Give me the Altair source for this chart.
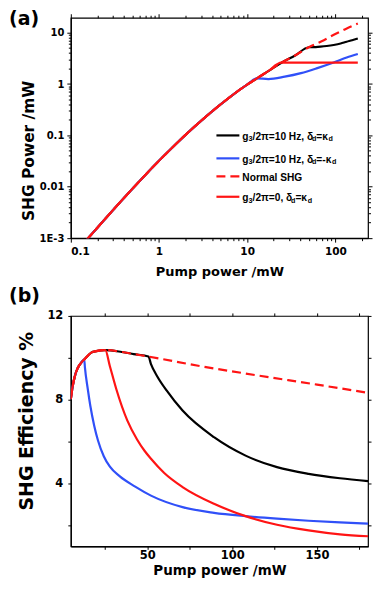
import altair as alt
import pandas as pd

# ---------------- Panel (a): SHG power vs pump power (log-log) ----------------
# low-power part shared by all four cases
a_pump_common = [0.15, 0.2, 0.3, 0.5, 0.7, 1.0, 1.6, 2.1, 3.0, 4.1, 5.0, 7.0, 10.0, 12.9]
a_shg_common = [0.000915, 0.0016, 0.0035, 0.00915, 0.017, 0.032, 0.0712, 0.111, 0.192, 0.303, 0.40, 0.63, 0.97, 1.29]
# normal SHG continuation
a_pump_normal = [17, 24.5, 35, 50, 70, 100, 130, 153, 180]
a_shg_normal = [1.74, 2.6, 3.6, 5.2, 6.8, 9.4, 11.7, 13.3, 15.0]
# g3/2pi=10 Hz, delta=kappa (after leaving normal curve at 50 mW)
a_pump_black = [60, 68, 80, 95.8, 115, 134.6, 155, 180]
a_shg_black = [5.25, 5.34, 5.5, 5.76, 6.15, 6.67, 7.1, 7.7]
# g3/2pi=10 Hz, delta=-kappa (after 12.9 mW)
a_pump_blue = [17.4, 26.7, 40.8, 62.5, 95.8, 134.6, 180]
a_shg_blue = [1.25, 1.39, 1.63, 2.04, 2.62, 3.28, 3.85]
# g3=0 (clamped after 24.5 mW)
a_pump_red = [50, 100, 180]
a_shg_red = [2.6, 2.6, 2.6]

# ---------------- Panel (b): SHG efficiency (%) vs pump power ----------------
b_pump_common = [5, 6, 7.7, 9, 11.4, 12.9]
b_eff_common = [8.03, 8.6, 9.22, 9.5, 9.8, 9.92]
b_pump_normal = [17, 20, 25.3, 35, 42, 50.7, 80, 113.4, 150, 180]
b_eff_normal = [10.25, 10.32, 10.37, 10.28, 10.18, 10.06, 9.62, 9.18, 8.72, 8.33]
b_pump_black = [52.2, 56, 61.5, 70.8, 89.3, 107.9, 126.4, 145, 163.5, 180]
b_eff_black = [9.7, 9.1, 8.43, 7.48, 6.21, 5.33, 4.78, 4.46, 4.25, 4.11]
b_pump_red = [28, 31.8, 38.3, 44, 48.5, 52.2, 60, 70.8, 89.3, 107.9, 126.4, 145, 163.5, 180]
b_eff_red = [9.6, 8.5, 7.0, 6.1, 5.55, 5.18, 4.5, 3.83, 3.03, 2.44, 2.03, 1.76, 1.57, 1.48]
b_pump_blue = [13.3, 15, 16.5, 18.8, 21, 24.4, 28, 33.7, 42.9, 52.2, 70.8, 89.3, 107.9, 126.4, 145, 163.5, 180]
b_eff_blue = [9.54, 8.5, 7.7, 6.75, 6.05, 5.3, 4.8, 4.35, 3.85, 3.42, 2.87, 2.60, 2.44, 2.32, 2.22, 2.14, 2.08]

legend_labels = ["g3/2π=10 Hz, δd=κd", "g3/2π=10 Hz, δd=-κd", "Normal SHG", "g3/2π=0, δd=κd"]

BLACK = "#000000"
BLUE = "#3050f8"
RED = "#ff1414"
FONT = "DejaVu Sans"
LFONT = "Liberation Sans"


def frame(xs, ys):
    return pd.DataFrame({"p": xs, "v": ys, "i": list(range(len(xs)))})


def upto(xs, ys, limit):
    return [x for x in xs if x <= limit], [y for x, y in zip(xs, ys) if x <= limit]


# ---- assemble panel (a) series
na_x, na_y = upto(a_pump_normal, a_shg_normal, 50)
ra_x, ra_y = upto(a_pump_normal, a_shg_normal, 24.5)
df_a_normal = frame(a_pump_common + a_pump_normal, a_shg_common + a_shg_normal)
df_a_black = frame(a_pump_common + na_x + a_pump_black, a_shg_common + na_y + a_shg_black)
df_a_blue = frame(a_pump_common + a_pump_blue, a_shg_common + a_shg_blue)
df_a_red = frame(a_pump_common + ra_x + a_pump_red, a_shg_common + ra_y + a_shg_red)

# ---- assemble panel (b) series
nb_x, nb_y = upto(b_pump_normal, b_eff_normal, 50.7)
rb_x, rb_y = upto(b_pump_normal, b_eff_normal, 25.3)
df_b_normal = frame(b_pump_common + b_pump_normal, b_eff_common + b_eff_normal)
df_b_black = frame(b_pump_common + nb_x + b_pump_black, b_eff_common + nb_y + b_eff_black)
df_b_blue = frame(b_pump_common + b_pump_blue, b_eff_common + b_eff_blue)
df_b_red = frame(b_pump_common + rb_x + b_pump_red, b_eff_common + rb_y + b_eff_red)

MAJOR_LOG = "abs(log(datum.value)/LN10 - round(log(datum.value)/LN10)) < 0.001"

axis_common = dict(
    domainColor="black", domainWidth=1.2, tickColor="black", tickWidth=1,
    labelFont=FONT, labelFontWeight="bold", labelColor="black",
    titleFont=FONT, titleFontWeight="bold", titleColor="black", grid=False,
)

x_vals_a = [m * 10 ** e for e in (-1, 0, 1) for m in range(1, 10)] + [100, 200]
y_vals_a = [m * 10 ** e for e in (-3, -2, -1, 0) for m in range(1, 10)] + [10]
x_vals_b = [25, 50, 75, 100, 125, 150, 175]
y_vals_b = [2, 4, 6, 8, 10, 12]

W_A, H_A = 298, 221
W_B, H_B = 298, 231

sx_a = alt.Scale(type="log", domain=[0.1, 235], nice=False)
sy_a = alt.Scale(type="log", domain=[0.001, 19.5], nice=False)
sx_b = alt.Scale(domain=[5, 180], nice=False, zero=False)
sy_b = alt.Scale(domain=[1, 12], nice=False, zero=False)

LOG_TICK = {"condition": {"test": MAJOR_LOG, "value": 4}, "value": 2.5}

xa = alt.X("p:Q", scale=sx_a,
           axis=alt.Axis(values=x_vals_a, title="Pump power /mW",
                         labelExpr=f"{MAJOR_LOG} ? format(datum.value, '~g') : ''",
                         tickSize=LOG_TICK,
                         labelFontSize=10.5, labelPadding=4, titleFontSize=13, titlePadding=9,
                         **axis_common))
ya = alt.Y("v:Q", scale=sy_a,
           axis=alt.Axis(values=y_vals_a, title="SHG Power /mW",
                         labelExpr=f"datum.value < 0.0015 ? '1E-3' : ({MAJOR_LOG} ? format(datum.value, '~g') : '')",
                         tickSize=LOG_TICK,
                         labelFontSize=10, labelPadding=3, titleFontSize=15.5,
                         titleX=-34, titleY=133, **axis_common))


def line(df, x, y, color, dash=None):
    kw = dict(color=color, strokeWidth=2.2, interpolate="monotone", clip=True)
    if dash:
        kw["strokeDash"] = dash
    return alt.Chart(df).mark_line(**kw).encode(x=x, y=y, order="i:Q")


def mirror_axes(df, sx, sy, xv, yv, tick):
    # invisible layer that only carries the top / right tick axes of the frame
    ax = dict(labels=False, title=None, domain=False, tickColor="black", tickWidth=1, grid=False)
    return alt.Chart(df).mark_point(opacity=0).encode(
        x=alt.X("p:Q", scale=sx, axis=alt.Axis(orient="top", values=xv, tickSize=tick, **ax)),
        y=alt.Y("v:Q", scale=sy, axis=alt.Axis(orient="right", values=yv, tickSize=tick, **ax)),
    )


one = pd.DataFrame({"k": [0]})


def panel_label(txt, x, y):
    return alt.Chart(one).mark_text(
        text=txt, align="left", baseline="top", font=FONT, fontWeight="bold",
        fontSize=19, color="black").encode(x=alt.value(x), y=alt.value(y))


# ---- manual legend for panel (a) (with subscripts)
EM = {"g": .611, "3": .556, "/": .278, "2": .556, "π": .62, "=": .584, "1": .556, "0": .556,
      " ": .278, "H": .722, "z": .5, ",": .278, "δ": .63, "d": .611, "κ": .62, "-": .333,
      "N": .722, "o": .611, "r": .389, "m": .889, "a": .556, "l": .278, "S": .667, "G": .778}
MAIN, SUB = 10.2, 7.2


def width(s, size):
    return sum(EM.get(c, .6) for c in s) * size


def segments(label):
    if label == "Normal SHG":
        return [(label, False)]
    parts = [("g", False), ("3", True)]
    rest = label[2:]
    i1 = rest.index("δ")
    parts.append((rest[:i1 + 1], False))
    parts.append(("d", True))
    rest2 = rest[i1 + 2:]
    parts.append((rest2[:-1], False))
    parts.append(("d", True))
    return parts


leg_rows_y = [118, 141, 159, 179.5]
leg_x0, leg_x1, leg_tx = 146, 169, 172
leg_styles = [(BLACK, None), (BLUE, None), (RED, [9, 5]), (RED, None)]
legend_layers = []
for lab, yy, (col, dash) in zip(legend_labels, leg_rows_y, leg_styles):
    kw = dict(color=col, strokeWidth=2.2)
    if dash:
        kw["strokeDash"] = dash
    legend_layers.append(alt.Chart(one).mark_rule(**kw).encode(
        x=alt.value(leg_x0), x2=alt.value(leg_x1), y=alt.value(yy)))
    cx = leg_tx
    for txt, sub in segments(lab):
        size = SUB if sub else MAIN
        legend_layers.append(alt.Chart(one).mark_text(
            text=txt, align="left", baseline="middle", font=LFONT, fontWeight="bold",
            fontSize=size, color="black", dy=(4 if sub else 1.5)).encode(
            x=alt.value(cx), y=alt.value(yy)))
        cx += width(txt, size)

main_a = alt.layer(
    line(df_a_black, xa, ya, BLACK),
    line(df_a_blue, xa, ya, BLUE),
    line(df_a_normal, xa, ya, RED, [9, 5]),
    line(df_a_red, xa, ya, RED),
    *legend_layers,
    panel_label("(a)", -62, -8),
)
panel_a = alt.layer(
    main_a, mirror_axes(df_a_normal, sx_a, sy_a, x_vals_a, y_vals_a, LOG_TICK)
).resolve_axis(x="independent", y="independent").properties(width=W_A, height=H_A)

xb = alt.X("p:Q", scale=sx_b,
           axis=alt.Axis(values=x_vals_b, title="Pump power /mW",
                         labelExpr="datum.value % 50 == 0 ? datum.label : ''",
                         tickSize=3, labelFontSize=11.5, labelPadding=0,
                         titleFontSize=13.5, titlePadding=3, **axis_common))
yb = alt.Y("v:Q", scale=sy_b,
           axis=alt.Axis(values=y_vals_b, title="SHG Efficiency %",
                         labelExpr="datum.value % 4 == 0 ? datum.label : ''",
                         tickSize=3, labelFontSize=11.5, labelPadding=5,
                         titleFontSize=19, titleX=-34, titleY=105, **axis_common))

main_b = alt.layer(
    line(df_b_black, xb, yb, BLACK),
    line(df_b_blue, xb, yb, BLUE),
    line(df_b_normal, xb, yb, RED, [9, 5]),
    line(df_b_red, xb, yb, RED),
    panel_label("(b)", -62, -29),
)
panel_b = alt.layer(
    main_b, mirror_axes(df_b_normal, sx_b, sy_b, x_vals_b, y_vals_b, 3)
).resolve_axis(x="independent", y="independent").properties(width=W_B, height=H_B)

chart = alt.vconcat(panel_a, panel_b, spacing=6, bounds="full").properties(
    padding=0
).configure_view(stroke="black", strokeWidth=1.2)

chart.save("out.html", embed_options={"renderer": "svg", "actions": False})
